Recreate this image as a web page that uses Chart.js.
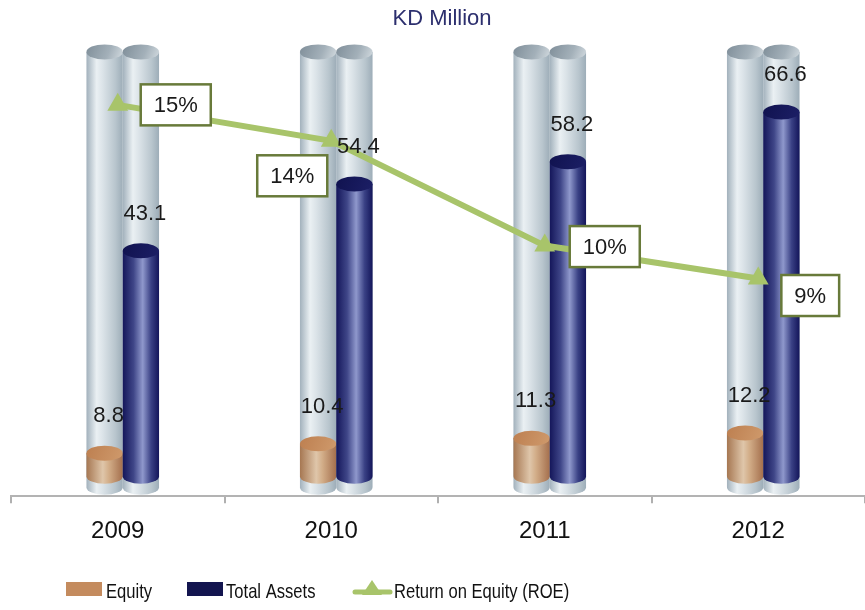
<!DOCTYPE html>
<html>
<head>
<meta charset="utf-8">
<script src="https://cdn.jsdelivr.net/npm/chart.js@4"></script>
<style>
  html, body { margin: 0; padding: 0; background: #fff; }
  #wrap { width: 865px; height: 610px; }
</style>
</head>
<body>
<div id="wrap"><canvas id="chart" width="865" height="610"></canvas></div>
<script>
// values
const years = ["2009", "2010", "2011", "2012"];
const equity = [8.8, 10.4, 11.3, 12.2];
const totalAssets = [43.1, 54.4, 58.2, 66.6];
const roe = [14.8, 13.6, 10.1, 9.0];   // plotted %, shown rounded
const backdropValue = 76.8;             // height of the grey back cylinders

// where each ROE box sits relative to its point (layout only)
const roeBoxOffset = [[58, 0], [-39, 35], [60, 1], [52, 17]];

const FONT = '"Liberation Sans", Arial, sans-serif';
const RY = 7.5;
const DEPTH_X = 5; // cylinders sit a little right of the category centre (3d look)

const greyBody = [[0, "#a2b1bc"], [0.28, "#eaf0f3"], [0.45, "#dbe3e8"], [0.8, "#b8c5cd"], [1, "#9dadb8"]];
const greyCap = [[0, "#7f8e99"], [0.6, "#a3b0b9"], [1, "#d3dbe0"]];
const navyBody = [[0, "#14165a"], [0.3, "#3f4688"], [0.55, "#8f98cc"], [0.78, "#3a4185"], [1, "#13155a"]];
const navyCap = [[0, "#10124f"], [1, "#1c1f66"]];
const brownBody = [[0, "#a67752"], [0.45, "#dfc6aa"], [0.62, "#d2ad88"], [1, "#a46f4d"]];
const brownCap = [[0, "#bd7f50"], [1, "#cf9a6c"]];

function cylinder(ctx, x, w, top, bottom, body, cap) {
  const l = x - w / 2, r = x + w / 2;
  const g = ctx.createLinearGradient(l, 0, r, 0);
  body.forEach(s => g.addColorStop(s[0], s[1]));
  ctx.fillStyle = g;
  ctx.beginPath();
  ctx.moveTo(l, top);
  ctx.lineTo(l, bottom);
  ctx.ellipse(x, bottom, w / 2, RY, 0, Math.PI, 0, true);
  ctx.lineTo(r, top);
  ctx.closePath();
  ctx.fill();
  const cg = ctx.createLinearGradient(l, top - RY, r, top + RY);
  cap.forEach(s => cg.addColorStop(s[0], s[1]));
  ctx.fillStyle = cg;
  ctx.beginPath();
  ctx.ellipse(x, top, w / 2, RY, 0, 0, Math.PI * 2);
  ctx.fill();
}

function legendText(ctx, txt, x, y) {
  // reference legend uses a condensed face
  ctx.save();
  ctx.translate(x, y);
  ctx.scale(0.79, 1);
  ctx.fillText(txt, 0, 0);
  ctx.restore();
}

const cylinders = {
  id: "cylinders",
  beforeDatasetsDraw(chart) {
    const ctx = chart.ctx, y = chart.scales.y, area = chart.chartArea;
    const eq = chart.getDatasetMeta(0).data, ta = chart.getDatasetMeta(1).data;
    const backTop = y.getPixelForValue(backdropValue);
    ctx.save();
    [eq, ta].forEach(bars => bars.forEach(b => {
      cylinder(ctx, b.x + DEPTH_X, b.width, backTop, area.bottom - 9, greyBody, greyCap);
    }));
    eq.forEach(b => cylinder(ctx, b.x + DEPTH_X, b.width, b.y, area.bottom - 20, brownBody, brownCap));
    ta.forEach(b => cylinder(ctx, b.x + DEPTH_X, b.width, b.y, area.bottom - 20, navyBody, navyCap));
    ctx.restore();
  },
  afterDatasetsDraw(chart) {
    const ctx = chart.ctx;
    ctx.save();
    ctx.font = "22px " + FONT;
    ctx.fillStyle = "#1a1a1a";
    ctx.textAlign = "center";
    ctx.textBaseline = "middle";
    chart.getDatasetMeta(0).data.forEach((b, i) => ctx.fillText(equity[i].toFixed(1), b.x + DEPTH_X + 4, b.y - 37));
    chart.getDatasetMeta(1).data.forEach((b, i) => ctx.fillText(totalAssets[i].toFixed(1), b.x + DEPTH_X + 4, b.y - 37));

    // ROE boxes
    chart.getDatasetMeta(2).data.forEach((p, i) => {
      const txt = Math.round(roe[i]) + "%";
      const w = ctx.measureText(txt).width + 26, h = 41;
      const cx = p.x + roeBoxOffset[i][0], cy = p.y + roeBoxOffset[i][1];
      ctx.fillStyle = "#fff";
      ctx.fillRect(cx - w / 2, cy - h / 2, w, h);
      ctx.strokeStyle = "#687a3a";
      ctx.lineWidth = 2.5;
      ctx.strokeRect(cx - w / 2, cy - h / 2, w, h);
      ctx.fillStyle = "#1a1a1a";
      ctx.fillText(txt, cx, cy + 1);
    });
    ctx.restore();
  },
  afterDraw(chart) {
    const ctx = chart.ctx;
    ctx.save();
    // title
    ctx.font = "22px " + FONT;
    ctx.fillStyle = "#2c2f6e";
    ctx.textAlign = "center";
    ctx.textBaseline = "middle";
    ctx.fillText("KD Million", 442, 19);
    // legend
    ctx.font = "21px " + FONT;
    ctx.textAlign = "left";
    ctx.fillStyle = "#c48b5e";
    ctx.fillRect(66, 582, 36, 14);
    ctx.fillStyle = "#13154f";
    ctx.fillRect(187, 582, 36, 14);
    ctx.strokeStyle = "#a8c46a";
    ctx.lineWidth = 5;
    ctx.lineCap = "round";
    ctx.beginPath();
    ctx.moveTo(355, 592);
    ctx.lineTo(390, 592);
    ctx.stroke();
    ctx.fillStyle = "#a8c46a";
    ctx.beginPath();
    ctx.moveTo(372, 580);
    ctx.lineTo(382, 595);
    ctx.lineTo(362, 595);
    ctx.closePath();
    ctx.fill();
    ctx.fillStyle = "#111";
    legendText(ctx, "Equity", 106, 592);
    legendText(ctx, "Total Assets", 226, 592);
    legendText(ctx, "Return on Equity (ROE)", 394, 592);
    ctx.restore();
  }
};

new Chart(document.getElementById("chart"), {
  data: {
    labels: years,
    datasets: [
      { type: "bar", label: "Equity", data: equity, backgroundColor: "rgba(0,0,0,0)", yAxisID: "y", order: 1 },
      { type: "bar", label: "Total Assets", data: totalAssets, backgroundColor: "rgba(0,0,0,0)", yAxisID: "y", order: 1 },
      {
        type: "line", label: "Return on Equity (ROE)", data: roe, yAxisID: "y2", order: 0,
        borderColor: "#a8c46a", borderWidth: 6, pointStyle: "triangle",
        pointRadius: 12, pointBackgroundColor: "#a8c46a", pointBorderColor: "#a8c46a", pointBorderWidth: 0
      }
    ]
  },
  options: {
    responsive: false,
    animation: false,
    datasets: { bar: { categoryPercentage: 0.34, barPercentage: 1 } },
    layout: { autoPadding: false, padding: { left: 11, right: 0, top: 33, bottom: 50 } },
    plugins: { legend: { display: false }, tooltip: { enabled: false }, title: { display: false } },
    scales: {
      x: {
        offset: true,
        grid: { display: true, offset: true, drawOnChartArea: false, drawTicks: true, tickLength: 7, color: "#b0b0b0", lineWidth: 2 },
        border: { display: true, color: "#b3b3b3", width: 2 },
        ticks: { color: "#111", font: { size: 24, family: FONT }, padding: 14 }
      },
      y: { display: false, min: 1.5, max: 80 },
      y2: { display: false, min: 1.73, max: 17.2 }
    }
  },
  plugins: [cylinders]
});
</script>
</body>
</html>
